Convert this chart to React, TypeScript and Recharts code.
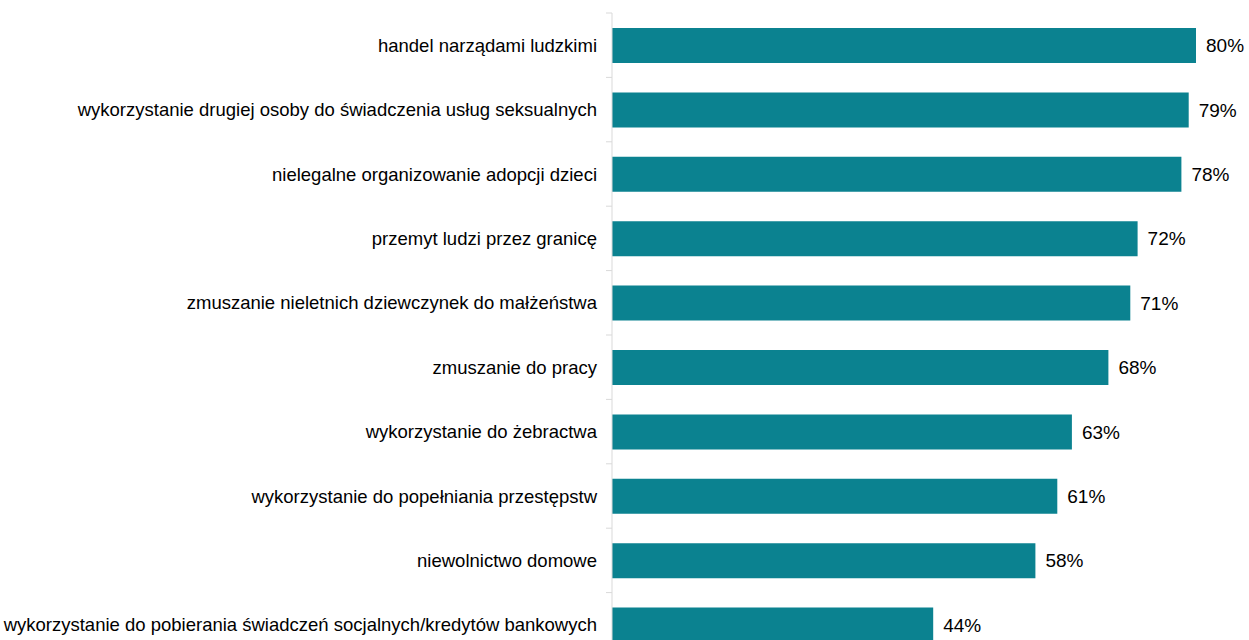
import React from 'react';
import { BarChart, Bar, XAxis, YAxis, LabelList } from 'recharts';

const categories = [
  'handel narządami ludzkimi',
  'wykorzystanie drugiej osoby do świadczenia usług seksualnych',
  'nielegalne organizowanie adopcji dzieci',
  'przemyt ludzi przez granicę',
  'zmuszanie nieletnich dziewczynek do małżeństwa',
  'zmuszanie do pracy',
  'wykorzystanie do żebractwa',
  'wykorzystanie do popełniania przestępstw',
  'niewolnictwo domowe',
  'wykorzystanie do pobierania świadczeń socjalnych/kredytów bankowych',
];
const values = [80, 79, 78, 72, 71, 68, 63, 61, 58, 44];

const data = categories.map((name, i) => ({ name, value: values[i] }));

const FONT = 'Arial, "Liberation Sans", sans-serif';
const BAND = 64.4;
const AXIS_X = 612;

// label centred on the band, small tick at the band's top edge (Excel style)
const CategoryTick = (props: any) => {
  const { y, payload } = props;
  const top = y - BAND / 2;
  return (
    <g>
      <line x1={AXIS_X - 6} x2={AXIS_X} y1={top} y2={top} stroke="#D9D9D9" strokeWidth={1} />
      <text
        x={AXIS_X - 15}
        y={y}
        textAnchor="end"
        dominantBaseline="central"
        fill="#000"
        fontSize={18.5}
        fontFamily={FONT}
      >
        {payload.value}
      </text>
    </g>
  );
};

export default function App() {
  return (
    <div
      style={{
        position: 'fixed',
        left: 0,
        top: 0,
        width: 1249,
        height: 640,
        overflow: 'hidden',
        background: '#fff',
      }}
    >
      <BarChart
        width={1249}
        height={660}
        data={data}
        layout="vertical"
        margin={{ top: 13, right: 53, left: 0, bottom: 3 }}
        barSize={35}
      >
        <XAxis type="number" domain={[0, 80]} hide />
        <YAxis
          type="category"
          dataKey="name"
          width={AXIS_X}
          axisLine={{ stroke: '#D9D9D9' }}
          tickLine={false}
          tick={<CategoryTick />}
          interval={0}
        />
        <Bar dataKey="value" fill="#0B8290" isAnimationActive={false}>
          <LabelList
            dataKey="value"
            position="right"
            offset={10}
            formatter={(v: any) => `${v}%`}
            style={{ fill: '#000', fontSize: 19, fontFamily: FONT }}
          />
        </Bar>
      </BarChart>
    </div>
  );
}
